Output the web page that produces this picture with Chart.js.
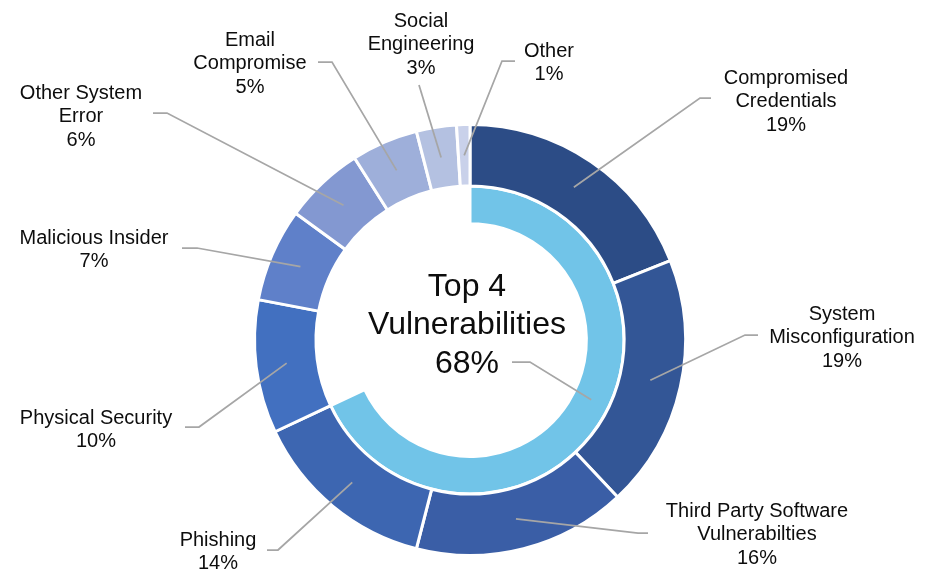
<!DOCTYPE html>
<html>
<head>
<meta charset="utf-8">
<script src="https://cdn.jsdelivr.net/npm/chart.js@4"></script>
<style>
  body { margin: 0; background: #fff; }
  canvas { display: block; }
</style>
</head>
<body>
<canvas id="chart" width="934" height="569"></canvas>
<script>
// data
const categories = [
    ['Compromised', 'Credentials'],
    ['System', 'Misconfiguration'],
    ['Third Party Software', 'Vulnerabilties'],
    ['Phishing'],
    ['Physical Security'],
    ['Malicious Insider'],
    ['Other System', 'Error'],
    ['Email', 'Compromise'],
    ['Social', 'Engineering'],
    ['Other']
];
const shares = [19, 19, 16, 14, 10, 7, 6, 5, 3, 1];
const topTitle = ['Top 4', 'Vulnerabilities'];
const topShare = [68, 32];

const colors = ['#2c4c86', '#335696', '#3a5ea6', '#3d66b1', '#4270c0',
                '#5f80c9', '#8398d1', '#9eafda', '#b4c1e1', '#c9d1ea'];

// where each label sits: text centre x, first line middle y, elbow point, stub end x
const labelPos = [
    { x: 786, y: 77,  ex: 700, ey: 98,  sx: 711 },
    { x: 842, y: 313, ex: 745, ey: 335, sx: 758 },
    { x: 757, y: 510, ex: 638, ey: 533, sx: 648 },
    { x: 218, y: 539, ex: 278, ey: 550, sx: 267 },
    { x: 96,  y: 417, ex: 199, ey: 427, sx: 185 },
    { x: 94,  y: 237, ex: 197, ey: 248, sx: 182 },
    { x: 81,  y: 92,  ex: 167, ey: 113, sx: 153 },
    { x: 250, y: 39,  ex: 332, ey: 62,  sx: 318 },
    { x: 421, y: 20,  ex: 419, ey: 85,  sx: 419 },
    { x: 549, y: 50,  ex: 502, ey: 61,  sx: 515 }
];
const centerPos = { x: 467, y: 284, lineH: 38.7, ex: 530, ey: 362, sx: 512, at: 0.475 };

const FONT = '"Liberation Sans", Arial, sans-serif';
const LINE = '#a6a6a6';
const TEXT = '#0d0d0d';

function anchorOf(arc, at) {
    const a = arc.startAngle + (arc.endAngle - arc.startAngle) * at;
    const r = (arc.innerRadius + arc.outerRadius) / 2;
    return { x: arc.x + Math.cos(a) * r, y: arc.y + Math.sin(a) * r };
}

function leader(ctx, p, pos) {
    ctx.beginPath();
    ctx.moveTo(p.x, p.y);
    ctx.lineTo(pos.ex, pos.ey);
    ctx.lineTo(pos.sx, pos.ey);
    ctx.stroke();
}

const leaderLabels = {
    id: 'leaderLabels',
    afterDatasetsDraw(chart) {
        const ctx = chart.ctx;
        const outer = chart.getDatasetMeta(0).data;
        const inner = chart.getDatasetMeta(1).data;
        ctx.save();
        ctx.strokeStyle = LINE;
        ctx.lineWidth = 1.75;
        ctx.fillStyle = TEXT;
        ctx.textAlign = 'center';
        ctx.textBaseline = 'alphabetic';

        // outer ring labels
        const size = 20;
        ctx.font = size + 'px ' + FONT;
        outer.forEach((arc, i) => {
            const pos = labelPos[i];
            leader(ctx, anchorOf(arc, 0.5), pos);
            const lines = categories[i].concat([shares[i] + '%']);
            lines.forEach((t, k) => {
                ctx.fillText(t, pos.x, pos.y + k * 23.2 + size * 0.36);
            });
        });

        // centre title
        const big = 32;
        ctx.font = big + 'px ' + FONT;
        const lines = topTitle.concat([topShare[0] + '%']);
        lines.forEach((t, k) => {
            ctx.fillText(t, centerPos.x, centerPos.y + k * centerPos.lineH + big * 0.36);
        });
        leader(ctx, anchorOf(inner[0], centerPos.at), centerPos);
        ctx.restore();
    }
};

new Chart(document.getElementById('chart'), {
    type: 'doughnut',
    data: {
        labels: categories,
        datasets: [
            {
                data: shares,
                backgroundColor: colors,
                borderColor: '#ffffff',
                borderWidth: 3,
                weight: 62
            },
            {
                data: topShare,
                backgroundColor: ['#71c4e8', 'rgba(0,0,0,0)'],
                borderColor: ['#ffffff', 'rgba(0,0,0,0)'],
                borderWidth: [3, 0],
                weight: 38
            }
        ]
    },
    options: {
        responsive: false,
        animation: false,
        cutout: '54%',
        layout: {
            padding: { left: 253, right: 247, top: 123, bottom: 12 }
        },
        plugins: {
            legend: { display: false },
            tooltip: { enabled: false }
        }
    },
    plugins: [leaderLabels]
});
</script>
</body>
</html>
